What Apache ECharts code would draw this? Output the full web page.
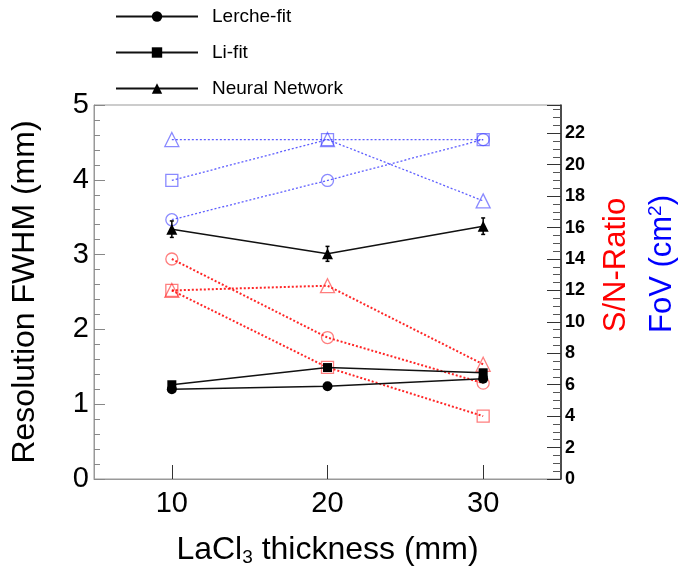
<!DOCTYPE html>
<html>
<head>
<meta charset="utf-8">
<script src="https://cdn.jsdelivr.net/npm/echarts@6/dist/echarts.min.js"></script>
<style>html,body{margin:0;padding:0;background:#fff}#c{width:688px;height:566px}</style>
</head>
<body>
<div id="c"></div>
<script>
// ---- data ----
const thickness = [10, 20, 30];
const xTicks = [10, 20, 30];
const lercheFit = [1.20, 1.24, 1.34];
const liFit = [1.26, 1.49, 1.42];
const neuralNet = [3.34, 3.01, 3.38];
const neuralErr = [0.11, 0.10, 0.11];
const snCircle = [14.0, 9.0, 6.1];
const snTriangle = [12.0, 12.3, 7.3];
const snSquare = [12.0, 7.1, 4.0];
const fovTriangle = [21.6, 21.6, 17.7];
const fovSquare = [19.0, 21.6, 21.6];
const fovCircle = [16.5, 19.0, 21.6];
const leftTicks = [0, 1, 2, 3, 4, 5];
const rightTicks = [0, 2, 4, 6, 8, 10, 12, 14, 16, 18, 20, 22];

const FONT = 'Liberation Sans, Arial, Helvetica, sans-serif';
const pairs = arr => thickness.map((x, i) => [x, arr[i]]);

const blueLine = 'rgba(40,40,255,0.75)';
const blueMark = 'rgba(60,60,255,0.6)';
const redLine = 'rgba(255,0,0,0.85)';
const redMark = 'rgba(255,40,40,0.6)';

function colored(name, data, symbol, size, lc, mc, lw) {
  return {
    name, type: 'line', yAxisIndex: 1, data: pairs(data),
    symbol, symbolSize: size, showSymbol: true,
    lineStyle: {color: lc, width: lw, type: [2, 2]},
    itemStyle: {color: 'rgba(0,0,0,0)', borderColor: mc, borderWidth: 1.3},
    z: 2
  };
}
function black(name, data, symbol, size) {
  return {
    name, type: 'line', yAxisIndex: 0, data: pairs(data),
    symbol, symbolSize: size,
    lineStyle: {color: '#111', width: 1.5},
    itemStyle: {color: '#000'},
    z: 4
  };
}

const chart = echarts.init(document.getElementById('c'), null, {renderer: 'canvas'});
chart.setOption({
  animation: false,
  backgroundColor: '#fff',
  grid: {left: 94, right: 127, top: 105, bottom: 87, show: true, borderColor: '#999', borderWidth: 1,
    backgroundColor: 'transparent', outerBoundsMode: 'none', containLabel: false},
  legend: {
    orient: 'vertical', left: 110, top: 2,
    itemWidth: 82, itemHeight: 13, itemGap: 17,
    data: ['Lerche-fit', 'Li-fit', 'Neural Network'],
    textStyle: {fontFamily: FONT, fontSize: 19, color: '#000', padding: [0, 0, 0, 9]}
  },
  xAxis: {
    type: 'value', min: 5, max: 35,
    name: '{a|LaCl}{s|3}{a| thickness (mm)}',
    nameLocation: 'middle', nameGap: 54,
    nameTextStyle: {
      rich: {
        a: {fontFamily: FONT, fontSize: 32, color: '#000'},
        s: {fontFamily: FONT, fontSize: 19, color: '#000', verticalAlign: 'bottom', padding: [15, 0, 0, 0]}
      }
    },
    axisLine: {show: true, lineStyle: {color: '#999', width: 1}},
    axisTick: {show: true, inside: true, length: 14, lineStyle: {color: '#333'}, customValues: xTicks},
    axisLabel: {fontFamily: FONT, fontSize: 29, color: '#000', margin: 10, customValues: xTicks},
    splitLine: {show: false}
  },
  yAxis: [{
    type: 'value', min: 0, max: 5, interval: 1, position: 'left',
    name: 'Resolution FWHM (mm)', nameLocation: 'middle', nameGap: 53,
    nameTextStyle: {fontFamily: FONT, fontSize: 32, color: '#000'},
    axisLine: {show: true, lineStyle: {color: '#999', width: 1}},
    axisTick: {show: true, inside: true, length: 11, lineStyle: {color: '#888'}},
    minorTick: {show: true, splitNumber: 5, length: 6, lineStyle: {color: '#888'}},
    axisLabel: {fontFamily: FONT, fontSize: 29, color: '#000', margin: 5,
      formatter: v => leftTicks.includes(v) ? String(v) : ''},
    splitLine: {show: false}, minorSplitLine: {show: false}
  }, {
    type: 'value', min: 0, max: 23.8, interval: 2, position: 'right',
    axisLine: {show: true, lineStyle: {color: '#222', width: 1.5}},
    axisTick: {show: true, inside: true, length: 14, lineStyle: {color: '#333'}},
    minorTick: {show: true, splitNumber: 4, length: 8, lineStyle: {color: '#555'}},
    axisLabel: {fontFamily: FONT, fontSize: 18, fontWeight: 'bold', color: '#000', margin: 4,
      formatter: v => rightTicks.includes(v) ? String(v) : ''},
    splitLine: {show: false}, minorSplitLine: {show: false}
  }],
  graphic: [
    {type: 'text', x: 616, y: 265, rotation: Math.PI / 2,
      style: {text: 'S/N-Ratio', fontFamily: FONT, fontSize: 31, fill: '#ff0000', align: 'center', verticalAlign: 'middle'}},
    {type: 'text', x: 662, y: 264, rotation: Math.PI / 2,
      style: {text: '{b|FoV (cm}{p|2}{b|)}', align: 'center', verticalAlign: 'middle',
        rich: {
          b: {fontFamily: FONT, fontSize: 31, fill: '#0000ff', color: '#0000ff'},
          p: {fontFamily: FONT, fontSize: 19, fill: '#0000ff', color: '#0000ff', verticalAlign: 'top', padding: [0, 0, 12, 0]}
        }}}
  ],
  series: [
    colored('FoV triangle', fovTriangle, 'triangle', 14, blueLine, blueMark, 1.3),
    colored('FoV square', fovSquare, 'rect', 12, blueLine, blueMark, 1.3),
    colored('FoV circle', fovCircle, 'circle', 12, blueLine, blueMark, 1.3),
    colored('S/N circle', snCircle, 'circle', 12, redLine, redMark, 2),
    colored('S/N triangle', snTriangle, 'triangle', 14, redLine, redMark, 2),
    colored('S/N square', snSquare, 'rect', 12, redLine, redMark, 2),
    black('Lerche-fit', lercheFit, 'circle', 10),
    black('Li-fit', liFit, 'rect', 9),
    black('Neural Network', neuralNet, 'triangle', 11),
    {
      name: 'NN error', type: 'custom', yAxisIndex: 0, z: 5,
      data: thickness.map((x, i) => [x, neuralNet[i] - neuralErr[i], neuralNet[i] + neuralErr[i]]),
      renderItem: (params, api) => {
        const lo = api.coord([api.value(0), api.value(1)]);
        const hi = api.coord([api.value(0), api.value(2)]);
        const st = {stroke: '#000', lineWidth: 1.5};
        return {type: 'group', children: [
          {type: 'line', shape: {x1: lo[0], y1: lo[1], x2: hi[0], y2: hi[1]}, style: st},
          {type: 'line', shape: {x1: lo[0] - 2, y1: lo[1], x2: lo[0] + 2, y2: lo[1]}, style: st},
          {type: 'line', shape: {x1: hi[0] - 2, y1: hi[1], x2: hi[0] + 2, y2: hi[1]}, style: st}
        ]};
      }
    }
  ]
});
</script>
</body>
</html>
